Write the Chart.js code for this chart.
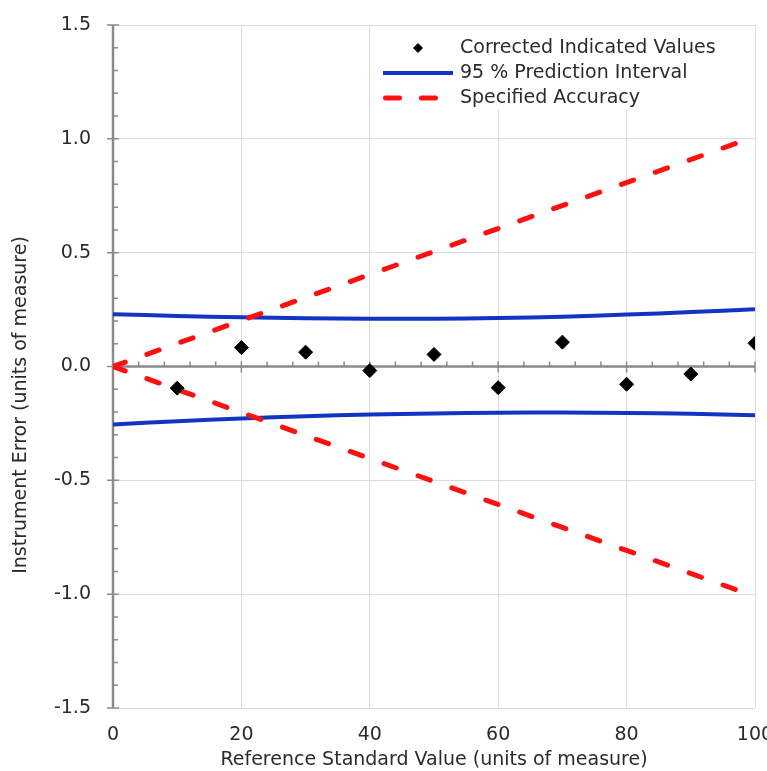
<!DOCTYPE html>
<html>
<head>
<meta charset="utf-8">
<script src="https://cdn.jsdelivr.net/npm/chart.js@4/dist/chart.umd.min.js"></script>
<style>
  html, body { margin: 0; padding: 0; background: #fff; }
  #wrap { position: relative; width: 767px; height: 771px; }
</style>
</head>
<body>
<div id="wrap"><canvas id="error-chart"></canvas></div>
<script>
// reference standard values and the corrected indicated errors
const refValues = [10, 20, 30, 40, 50, 60, 70, 80, 90, 100];
const measuredErrors = [-0.095, 0.083, 0.063, -0.018, 0.053, -0.093, 0.107, -0.078, -0.033, 0.102];

// 95 % prediction interval
const bandX = [0, 10, 20, 30, 40, 50, 60, 70, 80, 90, 100];
const upperBand = [0.230, 0.222, 0.216, 0.212, 0.210, 0.210, 0.213, 0.219, 0.228, 0.239, 0.252];
const lowerBand = [-0.255, -0.240, -0.228, -0.218, -0.211, -0.206, -0.203, -0.202, -0.204, -0.208, -0.214];

// specified accuracy (+/- 1 % of value)
const accuracyX = [0, 100];
const accuracyUpper = [0, 1.01];
const accuracyLower = [0, -1.01];

const legendLabels = ['Corrected Indicated Values', '95 % Prediction Interval', 'Specified Accuracy'];
const xTicks = [0, 20, 40, 60, 80, 100];
const yTicks = [-1.5, -1.0, -0.5, 0.0, 0.5, 1.0, 1.5];
const yTitle = 'Instrument Error (units of measure)';

const BLUE = '#1234c2';
const RED = '#ff1010';
const AXIS = '#8a8a8a';
const GRID = '#dcdcdc';
const TEXT = '#2b2b2b';
const FONT = "'DejaVu Sans', Verdana, sans-serif";
const SIZE = 19;
const DASH = [13, 23];

const pairs = (xs, ys) => xs.map((x, i) => ({ x, y: ys[i] }));

// axes crossing at zero, with minor ticks like the original
const crossAxes = {
    id: 'crossAxes',
    beforeDatasetsDraw(chart) {
        const { ctx, scales: { x, y } } = chart;
        const x0 = x.getPixelForValue(0);
        const y0 = y.getPixelForValue(0);
        ctx.save();
        ctx.strokeStyle = AXIS;
        ctx.lineWidth = 2.5;
        ctx.beginPath();
        ctx.moveTo(x0, y.getPixelForValue(1.5));
        ctx.lineTo(x0, y.getPixelForValue(-1.5));
        ctx.moveTo(x0, y0);
        ctx.lineTo(x.getPixelForValue(100), y0);
        ctx.stroke();

        ctx.lineWidth = 1.5;
        ctx.beginPath();
        for (let v = -15; v <= 15; v++) {
            const py = y.getPixelForValue(v / 10);
            if (v % 5 === 0) {
                ctx.moveTo(x0 - 6, py);
                ctx.lineTo(x0 + 6, py);
            } else {
                ctx.moveTo(x0, py);
                ctx.lineTo(x0 + 5, py);
            }
        }
        for (let v = 4; v <= 100; v += 4) {
            const px = x.getPixelForValue(v);
            if (v % 20 === 0) {
                ctx.moveTo(px, y0 - 5);
                ctx.lineTo(px, y0 + 6);
            } else {
                ctx.moveTo(px, y0);
                ctx.lineTo(px, y0 - 5);
            }
        }
        ctx.stroke();
        ctx.restore();
    },
    afterDraw(chart) {
        const { ctx, chartArea } = chart;
        const left = chartArea.right - 380;
        const top = chartArea.top + 1;
        ctx.save();
        ctx.fillStyle = '#fff';
        ctx.fillRect(left, top, 377, 84);

        ctx.font = SIZE + 'px ' + FONT;
        ctx.fillStyle = TEXT;
        ctx.textBaseline = 'middle';
        const textX = left + 85;
        const rows = [top + 22, top + 47, top + 72];
        legendLabels.forEach((label, i) => ctx.fillText(label, textX, rows[i]));

        // diamond
        const d = 5;
        ctx.fillStyle = '#000';
        ctx.beginPath();
        ctx.moveTo(left + 43, rows[0] - d);
        ctx.lineTo(left + 43 + d, rows[0]);
        ctx.lineTo(left + 43, rows[0] + d);
        ctx.lineTo(left + 43 - d, rows[0]);
        ctx.closePath();
        ctx.fill();

        ctx.lineWidth = 4;
        ctx.strokeStyle = BLUE;
        ctx.beginPath();
        ctx.moveTo(left + 8, rows[1]);
        ctx.lineTo(left + 78, rows[1]);
        ctx.stroke();

        ctx.strokeStyle = RED;
        ctx.lineWidth = 5;
        ctx.lineCap = 'round';
        ctx.setLineDash([14, 22]);
        ctx.beginPath();
        ctx.moveTo(left + 10.5, rows[2]);
        ctx.lineTo(left + 62, rows[2]);
        ctx.stroke();

        // y axis title, sits a little below the plot centre as in the original
        ctx.setLineDash([]);
        ctx.translate(21, 405);
        ctx.rotate(-Math.PI / 2);
        ctx.fillStyle = TEXT;
        ctx.textAlign = 'center';
        ctx.fillText(yTitle, 0, 0);
        ctx.restore();
    }
};

new Chart(document.getElementById('error-chart'), {
    type: 'scatter',
    data: {
        datasets: [{
            label: legendLabels[0],
            data: pairs(refValues, measuredErrors),
            backgroundColor: '#000',
            borderColor: '#000',
            pointStyle: 'rectRot',
            pointRadius: 7,
            showLine: false,
        }, {
            label: legendLabels[2],
            data: pairs(accuracyX, accuracyUpper),
            showLine: true,
            borderColor: RED,
            borderWidth: 5,
            borderDash: DASH,
            borderCapStyle: 'round',
            pointRadius: 0,
        }, {
            label: legendLabels[2],
            data: pairs(accuracyX, accuracyLower),
            showLine: true,
            borderColor: RED,
            borderWidth: 5,
            borderDash: DASH,
            borderCapStyle: 'round',
            pointRadius: 0,
        }, {
            label: legendLabels[1],
            data: pairs(bandX, upperBand),
            showLine: true,
            borderColor: BLUE,
            borderWidth: 4,
            tension: 0.4,
            pointRadius: 0,
        }, {
            label: legendLabels[1],
            data: pairs(bandX, lowerBand),
            showLine: true,
            borderColor: BLUE,
            borderWidth: 4,
            tension: 0.4,
            pointRadius: 0,
        }],
    },
    options: {
        responsive: true,
        maintainAspectRatio: false,
        animation: false,
        layout: { autoPadding: false, padding: { top: 25, right: 12, left: 0, bottom: 0 } },
        plugins: {
            legend: { display: false },
            tooltip: { enabled: false },
        },
        scales: {
            x: {
                type: 'linear',
                min: 0,
                max: 100,
                afterBuildTicks: (s) => { s.ticks = xTicks.map(v => ({ value: v })); },
                afterFit: (s) => {
                    s.height = 63;
                    s.paddingLeft = 0;
                    s.paddingRight = 0;
                },
                grid: { color: GRID, drawTicks: false },
                border: { display: false },
                ticks: {
                    padding: 16,
                    color: TEXT,
                    font: { family: FONT, size: SIZE },
                },
                title: {
                    display: true,
                    text: 'Reference Standard Value (units of measure)',
                    color: TEXT,
                    font: { family: FONT, size: SIZE },
                    padding: { top: 0, bottom: 0 },
                },
            },
            y: {
                type: 'linear',
                min: -1.5,
                max: 1.5,
                afterBuildTicks: (s) => { s.ticks = yTicks.map(v => ({ value: v })); },
                afterFit: (s) => {
                    s.width = 113;
                    s.paddingTop = 0;
                    s.paddingBottom = 0;
                },
                grid: { color: GRID, drawTicks: false },
                border: { display: false },
                ticks: {
                    padding: 22,
                    color: TEXT,
                    font: { family: FONT, size: SIZE },
                    callback: (v) => Number(v).toFixed(1),
                },
            },
        },
    },
    plugins: [crossAxes],
});
</script>
</body>
</html>
